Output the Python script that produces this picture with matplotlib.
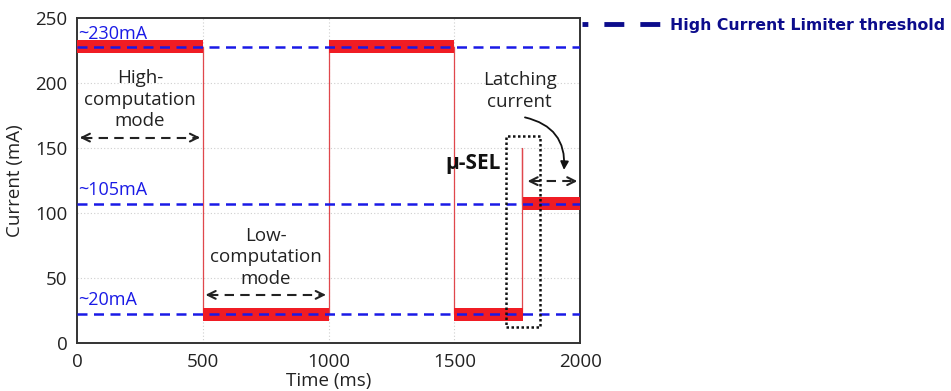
import matplotlib
matplotlib.use("Agg")
import matplotlib.pyplot as plt
from matplotlib.lines import Line2D
from matplotlib.patches import Rectangle

plt.rcParams['font.family'] = ['Open Sans', 'DejaVu Sans']

# ---- data ----
seg_start = [0, 500, 1000, 1500, 1772]
seg_end = [500, 1000, 1500, 1772, 2000]
seg_level = [228, 22, 228, 22, 107]
band_half = 5
spike_time = 1770
spike_peak = 150
thresholds = [228, 107, 22]
threshold_labels = ["~230mA", "~105mA", "~20mA"]
threshold_label_y = [231, 111, 26]
xticks = [0, 500, 1000, 1500, 2000]
yticks = [0, 50, 100, 150, 200, 250]

fig = plt.figure(figsize=(9.51, 3.91), dpi=100)
ax = fig.add_axes([0.081, 0.1228, 0.529, 0.8312])

ax.set_xlim(0, 2000)
ax.set_ylim(0, 250)

# grid
for yv in yticks[1:-1]:
    ax.axhline(yv, color='#cfcfcf', lw=0.8, ls=(0, (1, 2)), zorder=0)
for xv in xticks[1:-1]:
    ax.axvline(xv, color='#cfcfcf', lw=0.8, ls=(0, (1, 2)), zorder=0)

# thin trace (transitions)
tx, ty = [], []
for i, (s, e, l) in enumerate(zip(seg_start, seg_end, seg_level)):
    if i == 4:
        tx += [spike_time, spike_time]
        ty += [seg_level[3], spike_peak]
        tx += [spike_time, s]
        ty += [l, l]
    tx += [s, e]
    ty += [l, l]
ax.plot(tx, ty, color='#e0474c', lw=0.9, zorder=2)

# noisy band
for s, e, l in zip(seg_start, seg_end, seg_level):
    ax.fill_between([s, e], [l - band_half] * 2, [l + band_half] * 2,
                    color='#f01c24', lw=0, zorder=3)

# thresholds
for t in thresholds:
    ax.axhline(t, color='#1a1ae6', lw=1.8, ls=(0, (4, 2.6)), zorder=4)
for lab, ly in zip(threshold_labels, threshold_label_y):
    ax.text(3, ly, lab, color='#1a1ae6', fontsize=13, ha='left', va='bottom', zorder=5)

# dashed double arrows
def dbl_arrow(x0, x1, y):
    ax.plot([x0 + 25, x1 - 25], [y, y], color='#222222', lw=1.5, ls=(0, (4.5, 3)), zorder=6)
    for a, b in [(x0 + 40, x0), (x1 - 40, x1)]:
        ax.annotate('', xy=(b, y), xytext=(a, y),
                    arrowprops=dict(arrowstyle='->', color='#222222', lw=1.5,
                                    mutation_scale=14), zorder=6)

dbl_arrow(0, 500, 158)
dbl_arrow(500, 1000, 37)
dbl_arrow(1780, 2000, 124.5)

txt_kw = dict(fontsize=13.5, color='#222222', ha='center', va='center', linespacing=1.25)
ax.text(250, 187, "High-\ncomputation\nmode", **txt_kw)
ax.text(750, 66, "Low-\ncomputation\nmode", **txt_kw)
ax.text(1760, 194, "Latching\ncurrent", **txt_kw)
ax.text(1573, 138, "μ-SEL", fontsize=15, fontweight='bold', color='#111111',
        ha='center', va='center')

# curved arrow
ax.annotate('', xy=(1935, 131), xytext=(1770, 174),
            arrowprops=dict(arrowstyle='-|>', color='#111111', lw=1.3,
                            connectionstyle='arc3,rad=-0.45', mutation_scale=12), zorder=6)

# dotted box
ax.add_patch(Rectangle((1705, 12), 135, 147, fill=False, ec='#111111', lw=1.8,
                       ls=(0, (1, 1)), zorder=7))

ax.set_xticks(xticks)
ax.set_yticks(yticks)
ax.tick_params(labelsize=13.5, length=0, pad=7, colors='#222222')
ax.set_xlabel("Time (ms)", fontsize=13.5, color='#222222', labelpad=1)
ax.set_ylabel("Current (mA)", fontsize=13.5, color='#222222', labelpad=8)
for sp in ax.spines.values():
    sp.set_color('#333333')
    sp.set_linewidth(1.4)

# legend
h = Line2D([], [], color='#0c0c8c', lw=3.5, ls=(2.9, (4.1, 3.3)))
leg = ax.legend([h], ["High Current Limiter threshold"], loc='upper left',
                bbox_to_anchor=(0.998, 1.01), frameon=False, handlelength=5.3,
                handletextpad=0.3, borderaxespad=0, borderpad=0.2,
                prop=dict(family='DejaVu Sans', weight='bold', size=11.3))
for t in leg.get_texts():
    t.set_color('#0c0c8c')

fig.savefig("out.png", dpi=100)
